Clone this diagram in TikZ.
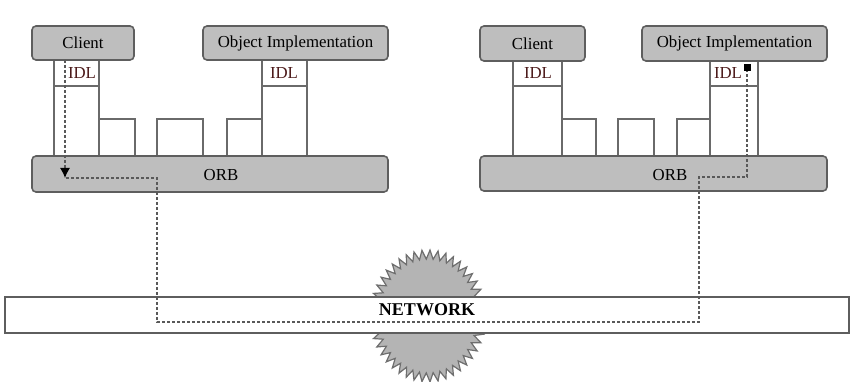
\documentclass[tikz,border=0pt]{standalone}
\usepackage{fontspec}
\setmainfont{Liberation Serif}
\usetikzlibrary{arrows.meta}
\definecolor{boxfill}{HTML}{BEBEBE}
\definecolor{boxline}{HTML}{5E5E5E}
\definecolor{legline}{HTML}{6A6A6A}
\definecolor{idlred}{HTML}{4A1818}
\definecolor{burstfill}{HTML}{B4B4B4}
\definecolor{burstline}{HTML}{6E6E6E}
\begin{document}
\begin{tikzpicture}[x=1pt,y=-1pt,
  box/.style={draw=boxline, fill=boxfill, line width=1.6pt, rounded corners=4pt, inner sep=0pt, font=\fontsize{16.8}{18}\selectfont},
  leg/.style={draw=legline, line width=1.4pt},
  lbl/.style={inner sep=0pt, font=\fontsize{16.8}{18}\selectfont},
  idl/.style={lbl, text=idlred},
  msg/.style={draw=black!65, line width=1.3pt, dash pattern=on 3pt off 2pt},
  tipdown/.style={-{Latex[length=10pt,width=10pt,color=black]}},
  tipup/.style={-{Square[length=7pt,width=7pt,color=black]}}]
\useasboundingbox (0,0) rectangle (852,382);

% ---------- left group ----------
\draw[leg] (54,60) -- (54,156) (99,60) -- (99,156) (54,86) -- (99,86);
\draw[leg] (99,119) -- (135,119) -- (135,156);
\draw[leg] (157,156) -- (157,119) -- (203,119) -- (203,156);
\draw[leg] (227,156) -- (227,119) -- (262,119);
\draw[leg] (262,60) -- (262,156) (307,60) -- (307,156) (262,86) -- (307,86);
\node[box, minimum width=102pt, minimum height=34pt] (cl1) at (83,43) {Client};
\node[box, minimum width=185pt, minimum height=34pt] (oi1) at (295.5,43) {Object Implementation};
\node[box, minimum width=356pt, minimum height=36pt] (orb1) at (210,174) {};
\node[lbl] (orbt1) at (221,175) {ORB};
\node[idl] (idl1) at (82,73) {IDL};
\node[idl] (idl2) at (284,73) {IDL};

% ---------- right group ----------
\draw[leg] (513,61) -- (513,156) (562,61) -- (562,156) (513,86) -- (562,86);
\draw[leg] (562,119) -- (596,119) -- (596,156);
\draw[leg] (618,156) -- (618,119) -- (654,119) -- (654,156);
\draw[leg] (677,156) -- (677,119) -- (710,119);
\draw[leg] (710,61) -- (710,156) (758,61) -- (758,156) (710,86) -- (758,86);
\node[box, minimum width=105pt, minimum height=35pt] (cl2) at (532.5,43.5) {Client};
\node[box, minimum width=185pt, minimum height=35pt] (oi2) at (734.5,43.5) {Object Implementation};
\node[box, minimum width=347pt, minimum height=35pt] (orb2) at (653.5,173.5) {};
\node[lbl] (orbt2) at (670,175) {ORB};
\node[idl] (idl3) at (538,73) {IDL};
\node[idl] (idl4) at (728,73) {IDL};

% ---------- network ----------
\begin{scope}[shift={(428,316)}]
\filldraw[fill=burstfill, draw=burstline, line width=1.2pt, line join=miter]
  (0:58 and 66) \foreach \i in {0,...,44}{ -- ({\i*8+4}:49 and 57) -- ({\i*8+8}:58 and 66)} -- cycle;
\end{scope}
\node[draw=boxline, fill=white, line width=1.8pt, minimum width=844pt, minimum height=36pt, inner sep=0pt] (net) at (427,315) {};
\node[inner sep=0pt, font=\fontsize{18}{20}\selectfont\bfseries] (nett) at (427,310) {NETWORK};

% ---------- message path ----------
\coordinate (a0) at (65,60);
\coordinate (a1) at (65,178);
\coordinate (b0) at (66,178);
\coordinate (b1) at (157,178);
\coordinate (b2) at (157,322);
\coordinate (b3) at (699,322);
\coordinate (b4) at (699,177);
\coordinate (b5) at (747,177);
\coordinate (b6) at (747,64);
\draw[msg, tipdown] (a0) -- (a1);
\draw[msg, tipup] (b0) -- (b1) -- (b2) -- (b3) -- (b4) -- (b5) -- (b6);
\end{tikzpicture}
\end{document}
